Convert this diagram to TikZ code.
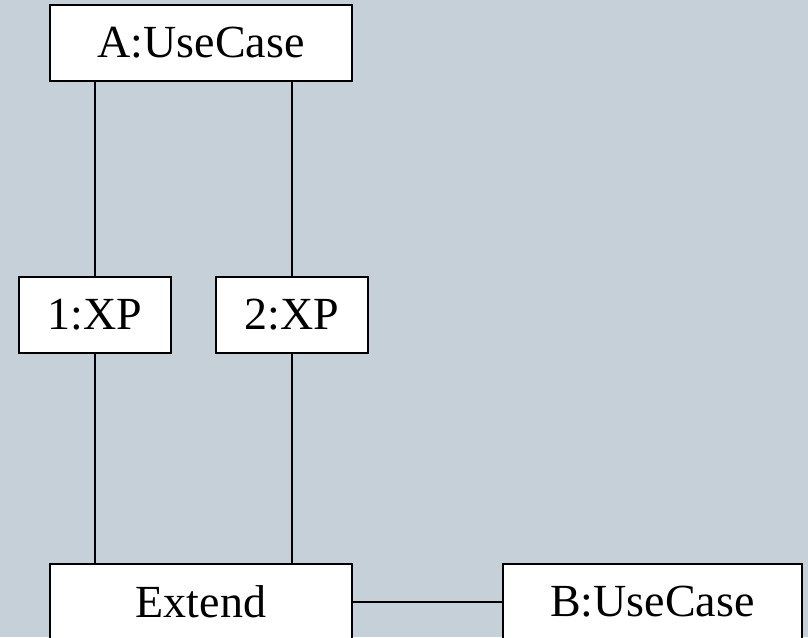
\documentclass[tikz,border=0pt]{standalone}
\usepackage{fontspec}
\setmainfont{Liberation Serif}
\definecolor{bgblue}{RGB}{197,208,216}

\begin{document}
\begin{tikzpicture}[x=1pt,y=-1pt,
  box/.style={draw,fill=white,line width=2pt,minimum height=76pt,inner sep=0pt,font=\fontsize{46}{52}\selectfont},
  link/.style={line width=2pt}]
% background
\useasboundingbox (0,0) rectangle (808,637);
\clip (0,0) rectangle (808,637);
\fill[bgblue] (0,0) rectangle (808,637);
% boxes
\node[box,minimum width=302pt] (ucA) at (201,43) {A:UseCase};
\node[box,minimum width=152pt] (xp1) at (95,315) {1:XP};
\node[box,minimum width=152pt] (xp2) at (292,315) {2:XP};
\node[box,minimum width=302pt] (ext) at (201,602) {Extend};
\node[box,minimum width=299pt] (ucB) at (652.5,602) {B:UseCase};
% links
\draw[link] (ucA.south -| xp1) -- (xp1.north);
\draw[link] (ucA.south -| xp2) -- (xp2.north);
\draw[link] (xp1.south) -- (ext.north -| xp1);
\draw[link] (xp2.south) -- (ext.north -| xp2);
\draw[link] (ext.east) -- (ucB.west);
\end{tikzpicture}
\end{document}
